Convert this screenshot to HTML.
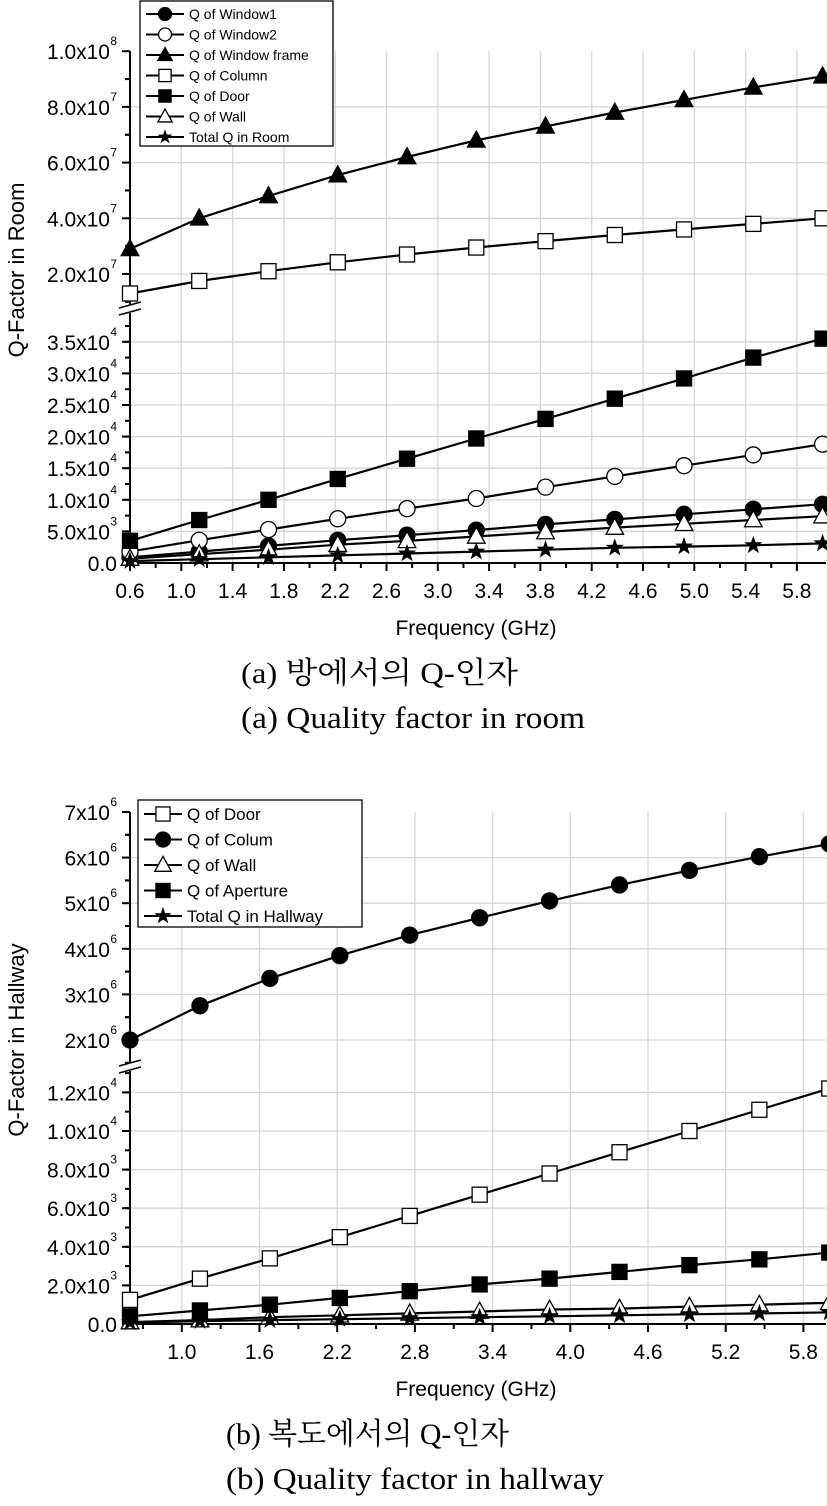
<!DOCTYPE html>
<html><head><meta charset="utf-8">
<style>
html,body{margin:0;padding:0;background:#fff;}
svg{display:block;}
text{font-family:"Liberation Sans",Arial,sans-serif;fill:#000;}
.cap{font-family:"Liberation Serif","Noto Serif CJK SC","Noto Sans CJK KR",serif;}
</style></head>
<body>
<svg id="svg" width="827" height="1506" viewBox="0 0 827 1506" xmlns="http://www.w3.org/2000/svg">
<g id="gA"></g>
<g id="gB"></g>
<text class="cap" x="241" y="683" font-size="30" textLength="277" lengthAdjust="spacingAndGlyphs">(a)  방에서의  Q-인자</text>
<text class="cap" x="241" y="728" font-size="31" textLength="344" lengthAdjust="spacingAndGlyphs">(a)  Quality  factor  in  room</text>
<text class="cap" x="226" y="1444" font-size="30" textLength="283" lengthAdjust="spacingAndGlyphs">(b)  복도에서의  Q-인자</text>
<text class="cap" x="226" y="1489" font-size="31" textLength="378" lengthAdjust="spacingAndGlyphs">(b)  Quality  factor  in  hallway</text>
</svg>
<script>
// ---- data ----
const freqs = [0.6,1.14,1.68,2.22,2.76,3.3,3.84,4.38,4.92,5.46,6.0];
// room chart (a)
const roomWindowFrame = [2.9e7,4.0e7,4.8e7,5.55e7,6.2e7,6.8e7,7.3e7,7.8e7,8.25e7,8.7e7,9.1e7];
const roomColumn = [1.3e7,1.75e7,2.1e7,2.42e7,2.7e7,2.95e7,3.18e7,3.4e7,3.6e7,3.8e7,4.0e7];
const roomDoor = [3.5e3,6.8e3,1.0e4,1.33e4,1.65e4,1.97e4,2.28e4,2.6e4,2.92e4,3.25e4,3.55e4];
const roomWindow2 = [1.8e3,3.6e3,5.3e3,7.0e3,8.6e3,1.02e4,1.2e4,1.37e4,1.54e4,1.71e4,1.88e4];
const roomWindow1 = [0.9e3,1.8e3,2.7e3,3.6e3,4.4e3,5.2e3,6.1e3,6.9e3,7.7e3,8.5e3,9.3e3];
const roomWall = [0.7e3,1.4e3,2.1e3,2.9e3,3.5e3,4.2e3,4.9e3,5.6e3,6.2e3,6.8e3,7.4e3];
const roomTotal = [0.3e3,0.6e3,0.9e3,1.2e3,1.5e3,1.8e3,2.1e3,2.4e3,2.6e3,2.8e3,3.1e3];
// hallway chart (b)
const hallColum = [2.0e6,2.75e6,3.35e6,3.85e6,4.3e6,4.68e6,5.05e6,5.4e6,5.72e6,6.02e6,6.3e6];
const hallDoor = [1.25e3,2.35e3,3.4e3,4.5e3,5.6e3,6.7e3,7.8e3,8.9e3,1.0e4,1.11e4,1.22e4];
const hallAperture = [0.4e3,0.7e3,1.0e3,1.35e3,1.7e3,2.05e3,2.35e3,2.7e3,3.05e3,3.35e3,3.7e3];
const hallWall = [0.1e3,0.2e3,0.35e3,0.45e3,0.55e3,0.65e3,0.75e3,0.8e3,0.9e3,1.0e3,1.1e3];
const hallTotal = [0.08e3,0.15e3,0.2e3,0.25e3,0.3e3,0.35e3,0.4e3,0.45e3,0.5e3,0.55e3,0.6e3];
// ticks
const roomXTicks = [0.6,1.0,1.4,1.8,2.2,2.6,3.0,3.4,3.8,4.2,4.6,5.0,5.4,5.8];
const hallXTicks = [1.0,1.6,2.2,2.8,3.4,4.0,4.6,5.2,5.8];
const roomUpperTicks = [[2e7,'2.0x10','7'],[4e7,'4.0x10','7'],[6e7,'6.0x10','7'],[8e7,'8.0x10','7'],[1e8,'1.0x10','8']];
const roomLowerTicks = [[0,'0.0',''],[5e3,'5.0x10','3'],[1e4,'1.0x10','4'],[1.5e4,'1.5x10','4'],[2e4,'2.0x10','4'],[2.5e4,'2.5x10','4'],[3e4,'3.0x10','4'],[3.5e4,'3.5x10','4']];
const hallUpperTicks = [[2e6,'2x10','6'],[3e6,'3x10','6'],[4e6,'4x10','6'],[5e6,'5x10','6'],[6e6,'6x10','6'],[7e6,'7x10','6']];
const hallLowerTicks = [[0,'0.0',''],[2e3,'2.0x10','3'],[4e3,'4.0x10','3'],[6e3,'6.0x10','3'],[8e3,'8.0x10','3'],[1e4,'1.0x10','4'],[1.2e4,'1.2x10','4']];

const NS='http://www.w3.org/2000/svg';
function mk(parent,tag,attrs){const e=document.createElementNS(NS,tag);for(const k in attrs)e.setAttribute(k,attrs[k]);parent.appendChild(e);return e;}

function marker(g,shape,x,y,s){
  let e;
  const fill = (shape==='circleF'||shape==='triF'||shape==='squareF'||shape==='star')?'#000':'#fff';
  if(shape.startsWith('circle')) e=mk(g,'circle',{cx:x,cy:y,r:s*0.5,fill:fill,stroke:'#000','stroke-width':1.3});
  else if(shape.startsWith('square')) e=mk(g,'rect',{x:x-s*0.47,y:y-s*0.47,width:s*0.94,height:s*0.94,fill:fill,stroke:'#000','stroke-width':1.3});
  else if(shape.startsWith('tri')) e=mk(g,'polygon',{points:`${x},${y-s*0.58} ${x+s*0.55},${y+s*0.42} ${x-s*0.55},${y+s*0.42}`,fill:fill,stroke:'#000','stroke-width':1.3});
  else { let p=[];for(let i=0;i<10;i++){const r=i%2?s*0.24:s*0.6;const a=-Math.PI/2+i*Math.PI/5;p.push((x+r*Math.cos(a)).toFixed(1)+','+(y+r*Math.sin(a)).toFixed(1));}
    e=mk(g,'polygon',{points:p.join(' '),fill:'#000'}); }
  
  
  return e;
}

function chart(cfg){
  const g=document.getElementById(cfg.id);
  const X0=130, XR=826;
  const xs=v=>X0+(v-0.6)*cfg.pxPerGHz;
  const yU=v=>cfg.uY0+(v-cfg.uV0)*cfg.uScale;
  const yL=v=>cfg.lY0-v*cfg.lScale;
  const grid=mk(g,'g',{stroke:'#d6d6d6','stroke-width':1.3});
  
  
  cfg.xTicks.forEach(t=>{ if(t>0.65){mk(grid,'line',{x1:xs(t),x2:xs(t),y1:cfg.top,y2:cfg.lY0});}});
  cfg.uTicks.forEach(t=>{ if(yU(t[0])>cfg.top+2) mk(grid,'line',{x1:X0,x2:XR,y1:yU(t[0]),y2:yU(t[0])});});
  cfg.lTicks.forEach(t=>{ if(t[0]>0) mk(grid,'line',{x1:X0,x2:XR,y1:yL(t[0]),y2:yL(t[0])});});
  const ax=mk(g,'g',{stroke:'#000','stroke-width':2,fill:'none'});
  
  
  mk(ax,'line',{x1:X0,x2:X0,y1:cfg.top,y2:cfg.brk-4});
  mk(ax,'line',{x1:X0,x2:X0,y1:cfg.brk+4,y2:cfg.lY0});
  mk(ax,'line',{x1:X0,x2:XR,y1:cfg.lY0,y2:cfg.lY0});
  mk(ax,'line',{x1:X0-11,x2:X0+11,y1:cfg.brk-1,y2:cfg.brk-7,'stroke-width':1.5});
  mk(ax,'line',{x1:X0-11,x2:X0+11,y1:cfg.brk+6,y2:cfg.brk,'stroke-width':1.5});
  const tl=mk(g,'g',{});
  
  
  function ytick(y,lab,exp){
    mk(ax,'line',{x1:X0-8,x2:X0,y1:y,y2:y});
    const t=mk(tl,'text',{x:X0-13-(exp?7:0),y:y+8,'font-size':cfg.fs,'text-anchor':'end'});
    t.textContent=lab;
    if(exp){const s=mk(tl,'text',{x:X0-13,y:y-6,'font-size':12,'text-anchor':'end'});s.textContent=exp;}
  }
  cfg.uTicks.forEach(t=>ytick(yU(t[0]),t[1],t[2]));
  cfg.lTicks.forEach(t=>ytick(yL(t[0]),t[1],t[2]));
  for(let i=0;i<cfg.uTicks.length;i++){const v=cfg.uTicks[i][0]+cfg.uStep/2;const y=yU(v);if(y>cfg.top-1&&y<cfg.brk-4)mk(ax,'line',{x1:X0-5,x2:X0,y1:y,y2:y});
    const v2=cfg.uTicks[i][0]-cfg.uStep/2;const y2=yU(v2);if(y2>cfg.top-1&&y2<cfg.brk-4)mk(ax,'line',{x1:X0-5,x2:X0,y1:y2,y2:y2});}
  for(let v=cfg.lStep/2;yL(v)>cfg.brk+6;v+=cfg.lStep/2){mk(ax,'line',{x1:X0-5,x2:X0,y1:yL(v),y2:yL(v)});}
  const xl=mk(g,'g',{});
  
  
  cfg.xTicks.forEach(t=>{mk(ax,'line',{x1:xs(t),x2:xs(t),y1:cfg.lY0,y2:cfg.lY0+8});
    const tx=mk(xl,'text',{x:xs(t),y:cfg.lY0+35,'font-size':cfg.fs,'text-anchor':'middle'});tx.textContent=t.toFixed(1);});
  const d=cfg.xTicks[1]-cfg.xTicks[0];
  for(let v=cfg.xTicks[0]-d/2;v<6.0;v+=d){ if(v>0.6) mk(ax,'line',{x1:xs(v),x2:xs(v),y1:cfg.lY0,y2:cfg.lY0+5});}
  cfg.series.forEach(s=>{
    const sg=mk(g,'g',{});
    
    
    const yf=s.upper?yU:yL;
    const pts=s.vals.map((v,i)=>xs(freqs[i]).toFixed(1)+','+yf(v).toFixed(1));
    mk(sg,'polyline',{points:pts.join(' '),fill:'none',stroke:'#000','stroke-width':2.2});
    s.vals.forEach((v,i)=>marker(sg,s.shape,xs(freqs[i]),yf(v),cfg.ms));
  });
  const xt=mk(g,'text',{x:cfg.xtX,y:cfg.lY0+72,'font-size':21,'text-anchor':'middle'});
  xt.textContent='Frequency (GHz)';
  
  
  const yt=mk(g,'text',{x:0,y:0,'font-size':22,'text-anchor':'middle',transform:`translate(24,${cfg.ytY}) rotate(-90)`});
  yt.textContent=cfg.yTitle;
  
  
  const lg=mk(g,'g',{});
  
  
  mk(lg,'rect',{x:cfg.lg.x,y:cfg.lg.y,width:cfg.lg.w,height:cfg.lg.h,fill:'#fff',stroke:'#000','stroke-width':1.3});
  cfg.series.forEach((s,i)=>{
    const e=mk(lg,'g',{});
    
    
    const y=cfg.lg.y+cfg.lg.r0+i*cfg.lg.dy;
    mk(e,'line',{x1:cfg.lg.x+6,x2:cfg.lg.x+44,y1:y,y2:y,stroke:'#000','stroke-width':2});
    marker(e,s.shape,cfg.lg.x+25,y,cfg.lg.ms);
    const t=mk(e,'text',{x:cfg.lg.x+49,y:y+cfg.lg.fs*0.36,'font-size':cfg.lg.fs});t.textContent=s.label;
  });
}

chart({id:'gA',pxPerGHz:128.25,top:51,brk:309,uY0:274,uV0:2e7,uScale:-55.7/2e7,uStep:2e7,lY0:563,lScale:31.6/5e3,lStep:5e3,
  xTicks:roomXTicks,uTicks:roomUpperTicks,lTicks:roomLowerTicks,fs:21,ms:16,xtX:476,ytY:270,yTitle:'Q-Factor in Room',
  lg:{x:140,y:1,w:193,h:145,r0:13,dy:20.5,fs:14,ms:13},
  series:[
    {name:'window1',label:'Q of Window1',shape:'circleF',vals:roomWindow1},
    {name:'window2',label:'Q of Window2',shape:'circleO',vals:roomWindow2},
    {name:'window-frame',label:'Q of Window frame',shape:'triF',vals:roomWindowFrame,upper:true},
    {name:'column',label:'Q of Column',shape:'squareO',vals:roomColumn,upper:true},
    {name:'door',label:'Q of Door',shape:'squareF',vals:roomDoor},
    {name:'wall',label:'Q of Wall',shape:'triO',vals:roomWall},
    {name:'total',label:'Total Q in Room',shape:'star',vals:roomTotal}]});

chart({id:'gB',pxPerGHz:129.5,top:812,brk:1067,uY0:1040,uV0:2e6,uScale:-45.6/1e6,uStep:1e6,lY0:1324,lScale:38.6/2e3,lStep:2e3,
  xTicks:hallXTicks,uTicks:hallUpperTicks,lTicks:hallLowerTicks,fs:21,ms:16,xtX:476,ytY:1040,yTitle:'Q-Factor in Hallway',
  lg:{x:138,y:800,w:224,h:127,r0:14,dy:25.5,fs:17,ms:15},
  series:[
    {name:'door',label:'Q of Door',shape:'squareO',vals:hallDoor},
    {name:'colum',label:'Q of Colum',shape:'circleF',vals:hallColum,upper:true},
    {name:'wall',label:'Q of Wall',shape:'triO',vals:hallWall},
    {name:'aperture',label:'Q of Aperture',shape:'squareF',vals:hallAperture},
    {name:'total',label:'Total Q in Hallway',shape:'star',vals:hallTotal}]});
</script>
</body></html>
